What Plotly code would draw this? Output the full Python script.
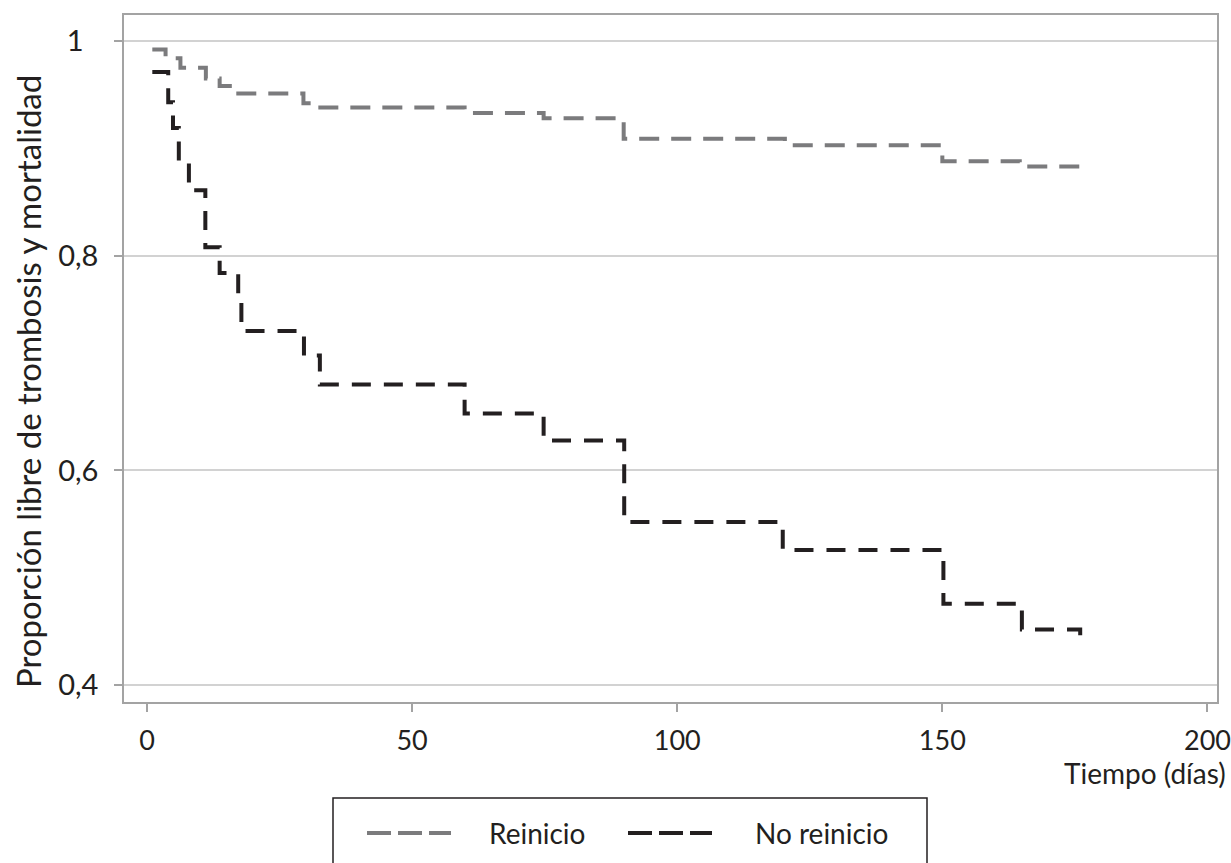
import plotly.graph_objects as go

# Data
reinicio_t = [1, 3.5, 6.3, 11.1, 13.7, 16.5, 29.5, 31.8, 59.9, 74.8, 89.9, 120.3, 150.0, 164.6, 176.2]
reinicio_v = [0.992, 0.984, 0.975, 0.965, 0.958, 0.951, 0.942, 0.938, 0.933, 0.928, 0.909, 0.903, 0.888, 0.883, 0.879]

no_reinicio_t = [1, 4.0, 4.9, 6.0, 7.9, 11.0, 13.7, 17.2, 17.8, 29.6, 32.6, 59.9, 74.8, 90.0, 119.9, 150.2, 165.0, 176.0]
no_reinicio_v = [0.971, 0.943, 0.919, 0.887, 0.861, 0.808, 0.784, 0.759, 0.730, 0.707, 0.680, 0.653, 0.628, 0.552, 0.526, 0.476, 0.452, 0.438]

x_ticks = [0, 50, 100, 150, 200]
y_ticks = [0.4, 0.6, 0.8, 1.0]
y_tick_labels = ["0,4", "0,6", "0,8", "1\u00a0\u00a0"]

series_names = ["Reinicio", "No reinicio"]
GRAY = "#7b7b7d"
BLACK = "#231f20"
FRAME = "#a3a3a3"
FONT = "Lato"

W, H = 1231, 863
L, R, T, B = 124, 14, 15, 161

fig = go.Figure()
fig.add_trace(go.Scatter(x=reinicio_t, y=reinicio_v, mode="lines", name=series_names[0],
                         line=dict(color=GRAY, width=4, dash="20px,12px", shape="hv"),
                         showlegend=False))
fig.add_trace(go.Scatter(x=no_reinicio_t, y=no_reinicio_v, mode="lines", name=series_names[1],
                         line=dict(color=BLACK, width=4, dash="19px,13px", shape="hv"),
                         showlegend=False))

pw = W - L - R
ph = H - T - B

def px2paper_x(px):
    return (px - L) / pw

def px2paper_y(py):
    return (H - B - py) / ph

shapes = []
annotations = []
# Legend box (extends past the bottom edge as in the reference)
shapes.append(dict(type="rect", xref="paper", yref="paper",
                   x0=px2paper_x(333), x1=px2paper_x(927),
                   y0=px2paper_y(798), y1=px2paper_y(890),
                   line=dict(color=BLACK, width=1.5), fillcolor="rgba(0,0,0,0)"))
legend_items = [
    (series_names[0], GRAY, 367, 451, 487),
    (series_names[1], BLACK, 628, 712, 753),
]
for name, col, sx0, sx1, tx in legend_items:
    shapes.append(dict(type="line", xref="paper", yref="paper",
                       x0=px2paper_x(sx0), x1=px2paper_x(sx1),
                       y0=px2paper_y(833), y1=px2paper_y(833),
                       line=dict(color=col, width=4, dash="24px,7px")))
    annotations.append(dict(text=name, xref="paper", yref="paper",
                            x=px2paper_x(tx), y=px2paper_y(833),
                            xanchor="left", yanchor="middle", showarrow=False,
                            font=dict(family=FONT, size=28, color=BLACK)))

# X axis title placed at the right, below tick labels
annotations.append(dict(text="Tiempo (días)", xref="paper", yref="paper",
                        x=1, xshift=11, y=px2paper_y(773),
                        xanchor="right", yanchor="middle", showarrow=False,
                        font=dict(family=FONT, size=28, color=BLACK)))
# Y axis title (rotated), centred where the reference places it
annotations.append(dict(text="Proporción libre de trombosis y mortalidad",
                        xref="paper", yref="paper", textangle=-90,
                        x=px2paper_x(28), y=px2paper_y(382),
                        xanchor="center", yanchor="middle", showarrow=False,
                        font=dict(family=FONT, size=33, color=BLACK)))

fig.update_layout(
    width=W, height=H,
    margin=dict(l=L, r=R, t=T, b=B, autoexpand=False),
    paper_bgcolor="white", plot_bgcolor="white",
    font=dict(family=FONT, size=27, color=BLACK),
    shapes=shapes, annotations=annotations,
    showlegend=False,
)
fig.update_xaxes(
    range=[-4.34, 201.8], tickvals=x_ticks, ticks="outside", ticklen=8,
    tickwidth=1.5, tickcolor=FRAME, showgrid=False, zeroline=False,
    showline=True, linecolor=FRAME, linewidth=1.5, mirror=True, automargin=False,
    tickfont=dict(family=FONT, size=27, color=BLACK), ticklabelstandoff=6,
)
fig.update_yaxes(
    range=[0.3844, 1.0242], tickvals=y_ticks, ticktext=y_tick_labels,
    ticks="outside", ticklen=8, tickwidth=1.5, tickcolor=FRAME,
    showgrid=True, gridcolor="#d2d2d2", gridwidth=1.5, zeroline=False,
    showline=True, linecolor=FRAME, linewidth=1.5, mirror=True, automargin=False,
    tickfont=dict(family=FONT, size=29, color=BLACK), ticklabelstandoff=10,
)

fig.write_html("out.html")
